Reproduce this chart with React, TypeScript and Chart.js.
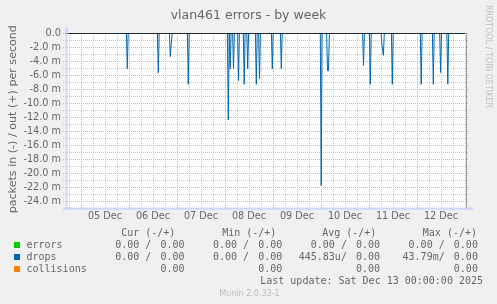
import React, { useEffect, useRef } from "react";
import { Chart, registerables } from "chart.js";

Chart.register(...registerables);

// ---------- text ----------
const chartTitle = "vlan461 errors - by week";
const yAxisTitle = "packets in (-) / out (+) per second";
const watermark = "RRDTOOL / TOBI OETIKER";
const footerText = "Munin 2.0.33-1";
const lastUpdateText = "Last update: Sat Dec 13 00:00:00 2025";

// ---------- axes (x in hours relative to last update, Sat Dec 13 00:00) ----------
const xStartHour = -200;
const xEndHour = 0;
const dayLabels = ["05 Dec", "06 Dec", "07 Dec", "08 Dec", "09 Dec", "10 Dec", "11 Dec", "12 Dec"];
const dayLabelHours = [-180, -156, -132, -108, -84, -60, -36, -12];
const yMin = -25;
const yMax = 0;
const yLabelValues = [0, -2, -4, -6, -8, -10, -12, -14, -16, -18, -20, -22, -24];
const yLabelTexts = ["0.0", "-2.0 m", "-4.0 m", "-6.0 m", "-8.0 m", "-10.0 m", "-12.0 m", "-14.0 m", "-16.0 m", "-18.0 m", "-20.0 m", "-22.0 m", "-24.0 m"];

// ---------- drops (in, drawn negative), milli-packets per second ----------
const dropHours = [
  -168.85, -153.35, -147.35, -146.85, -138.35, -118.35, -117.4, -115.75, -113.25,
  -110.4, -108.65, -104.35, -102.75, -96.35, -91.85, -71.9, -68.75, -68.25,
  -50.75, -47.35, -41.5, -40.8, -36.35, -21.9, -15.85, -12.2, -8.6,
];
const dropValues = [
  -5.1, -5.67, -3.38, -1.5, -7.33, -12.4, -5.1, -5.1, -6.8,
  -7.33, -5.1, -7.33, -6.5, -5.1, -5.1, -21.8, -5.38, -5.38,
  -4.65, -7.33, -1.8, -3.2, -7.33, -7.33, -7.33, -5.65, -7.33,
];

// ---------- legend ----------
const seriesNames = ["errors", "drops", "collisions"];
const seriesColors = ["#00CC00", "#0066B3", "#FF8000"];
const statHeaders = ["Cur (-/+)", "Min (-/+)", "Avg (-/+)", "Max (-/+)"];
const errorsIn = ["0.00", "0.00", "0.00", "0.00"];
const errorsOut = ["0.00", "0.00", "0.00", "0.00"];
const dropsIn = ["0.00", "0.00", "445.83u", "43.79m"];
const dropsOut = ["0.00", "0.00", "0.00", "0.00"];
const collisionsVals = ["0.00", "0.00", "0.00", "0.00"];

const FONT = '"DejaVu Sans", sans-serif';
const MONO = '"DejaVu Sans Mono", monospace';
const TEXT = "#666666";
const MINOR = "#c9c9c9";
const MAJOR = "#eba3a3";
const AXIS = "#CFD6F8";

function buildDropPoints() {
  const pts: { x: number; y: number }[] = [{ x: xStartHour, y: 0 }];
  for (let i = 0; i < dropHours.length; i++) {
    const h = dropHours[i];
    const prev = i > 0 ? dropHours[i - 1] : -Infinity;
    const next = i < dropHours.length - 1 ? dropHours[i + 1] : Infinity;
    if (h - prev > 0.9) pts.push({ x: h - 0.45, y: 0 });
    pts.push({ x: h, y: dropValues[i] });
    if (next - h > 0.9) pts.push({ x: h + 0.45, y: 0 });
  }
  pts.push({ x: xEndHour, y: 0 });
  return pts;
}

const rrdPlugin = {
  id: "rrd",
  beforeDraw(chart: any) {
    const { ctx, chartArea: a } = chart;
    ctx.save();
    ctx.fillStyle = "#F0F0F0";
    ctx.fillRect(0, 0, chart.width, chart.height);
    ctx.fillStyle = "#FFFFFF";
    ctx.fillRect(a.left, a.top, a.right - a.left + 1, a.bottom - a.top);
    ctx.restore();
  },
  beforeDatasetsDraw(chart: any) {
    const { ctx, chartArea: a, scales } = chart;
    const xs = scales.x;
    const ys = scales.y;
    ctx.save();
    ctx.lineWidth = 1;
    ctx.setLineDash([1, 1]);
    for (const major of [false, true]) {
      ctx.strokeStyle = major ? MAJOR : MINOR;
      ctx.beginPath();
      for (const t of xs.ticks) {
        const isMajor = t.value % 24 === 0;
        if (isMajor !== major) continue;
        const px = Math.round(xs.getPixelForValue(t.value)) + 0.5;
        ctx.moveTo(px, a.top);
        ctx.lineTo(px, a.bottom + 2);
      }
      for (const t of ys.ticks) {
        const isMajor = t.value % 2 === 0;
        if (isMajor !== major) continue;
        const py = Math.round(ys.getPixelForValue(t.value)) + 0.5;
        ctx.moveTo(a.left - 2, py);
        ctx.lineTo(a.right + 4, py);
      }
      ctx.stroke();
    }
    ctx.restore();
  },
  afterDatasetsDraw(chart: any) {
    const { ctx, chartArea: a } = chart;
    ctx.save();
    // right frame line
    ctx.strokeStyle = "#a0a0a0";
    ctx.lineWidth = 1;
    ctx.beginPath();
    ctx.moveTo(a.right + 1.5, a.top);
    ctx.lineTo(a.right + 1.5, a.bottom);
    ctx.stroke();
    // axes
    ctx.strokeStyle = AXIS;
    ctx.fillStyle = AXIS;
    ctx.lineWidth = 2;
    const ax = a.left + 1.5;
    const ay = a.bottom + 0.5;
    ctx.beginPath();
    ctx.moveTo(ax, a.bottom + 2);
    ctx.lineTo(ax, a.top - 3);
    ctx.moveTo(a.left - 2, ay);
    ctx.lineTo(a.right + 5, ay);
    ctx.stroke();
    ctx.beginPath();
    ctx.moveTo(ax, a.top - 7);
    ctx.lineTo(ax - 2.5, a.top - 2);
    ctx.lineTo(ax + 2.5, a.top - 2);
    ctx.closePath();
    ctx.fill();
    ctx.beginPath();
    ctx.moveTo(a.right + 9, ay);
    ctx.lineTo(a.right + 4, ay - 2.5);
    ctx.lineTo(a.right + 4, ay + 2.5);
    ctx.closePath();
    ctx.fill();
    ctx.restore();
  },
  afterDraw(chart: any) {
    const { ctx } = chart;
    ctx.save();
    ctx.fillStyle = TEXT;
    // title
    ctx.font = `12.5px ${FONT}`;
    ctx.textAlign = "center";
    ctx.textBaseline = "alphabetic";
    ctx.fillText(chartTitle, chart.width / 2, 19);
    // y axis title
    ctx.save();
    ctx.font = `11.1px ${FONT}`;
    ctx.translate(15.5, 119.2);
    ctx.rotate(-Math.PI / 2);
    ctx.textAlign = "center";
    ctx.fillText(yAxisTitle, 0, 0);
    ctx.restore();
    // watermark
    ctx.save();
    ctx.fillStyle = "#c0c0c0";
    ctx.font = `8px ${FONT}`;
    ctx.translate(486, 5);
    ctx.rotate(Math.PI / 2);
    ctx.textAlign = "left";
    ctx.fillText(watermark, 0, 0);
    ctx.restore();
    // legend
    ctx.font = `10px ${MONO}`;
    ctx.textBaseline = "middle";
    ctx.textAlign = "left";
    const headerXs = [121.2, 222.2, 322.2, 422.8];
    statHeaders.forEach((h, j) => ctx.fillText(h, headerXs[j], 233));
    const colEnds = [184.5, 282.3, 380.1, 477.9];
    const rowY = [245, 257, 269];
    seriesNames.forEach((name, i) => {
      ctx.fillStyle = seriesColors[i];
      ctx.fillRect(14, rowY[i] - 3, 6, 6);
      ctx.fillStyle = TEXT;
      ctx.textAlign = "left";
      ctx.fillText(name, 26.5, rowY[i]);
    });
    ctx.textAlign = "right";
    const pairRows = [
      [errorsIn, errorsOut],
      [dropsIn, dropsOut],
    ];
    pairRows.forEach(([ins, outs], i) => {
      for (let j = 0; j < 4; j++) {
        const v = ins[j];
        const left = /[a-zA-Z]$/.test(v) ? v + "/" : v + " /";
        ctx.fillText(left, colEnds[j] - 33.2, rowY[i]);
        ctx.fillText(outs[j], colEnds[j], rowY[i]);
      }
    });
    for (let j = 0; j < 4; j++) ctx.fillText(collisionsVals[j], colEnds[j], rowY[2]);
    ctx.fillText(lastUpdateText, 483, 281);
    // footer
    ctx.font = `8px ${FONT}`;
    ctx.fillStyle = "#bdbdbd";
    ctx.textAlign = "center";
    ctx.fillText(footerText, 249.5, 294);
    ctx.restore();
  },
};

export default function App() {
  const ref = useRef<HTMLCanvasElement | null>(null);
  useEffect(() => {
    if (!ref.current) return;
    const xTicks: { value: number }[] = [];
    for (let h = xEndHour; h >= xStartHour; h -= 6) xTicks.unshift({ value: h });
    const yTicks: { value: number }[] = [];
    for (let v = yMax; v >= yMin + 1; v -= 1) yTicks.push({ value: v });
    const tickFont = { family: FONT, size: 9.7 };
    const chart = new Chart(ref.current, {
      type: "line",
      data: {
        datasets: [
          {
            label: "zero",
            data: [
              { x: xStartHour, y: 0 },
              { x: xEndHour, y: 0 },
            ],
            borderColor: "#000000",
            borderWidth: 1.5,
            pointRadius: 0,
            order: 0,
          },
          {
            label: "drops",
            data: buildDropPoints(),
            borderColor: "#0066B3",
            borderWidth: 1,
            pointRadius: 0,
            tension: 0,
            order: 1,
          },
        ],
      },
      options: {
        animation: false,
        responsive: false,
        maintainAspectRatio: false,
        events: [],
        layout: { padding: { left: 0, top: 33, right: 32, bottom: 0 } },
        plugins: {
          legend: { display: false },
          tooltip: { enabled: false },
          title: { display: false },
        },
        scales: {
          x: {
            type: "linear",
            min: xStartHour,
            max: xEndHour,
            afterBuildTicks: (s: any) => {
              s.ticks = xTicks.map((t) => ({ ...t }));
            },
            afterFit: (s: any) => {
              s.height = 96;
            },
            grid: { display: false, drawTicks: false },
            border: { display: false },
            ticks: {
              autoSkip: false,
              maxRotation: 0,
              minRotation: 0,
              padding: 3,
              color: TEXT,
              font: tickFont,
              callback: (v: any) => {
                const i = dayLabelHours.indexOf(Number(v));
                return i >= 0 ? dayLabels[i] : "";
              },
            },
          },
          y: {
            type: "linear",
            min: yMin,
            max: yMax,
            afterBuildTicks: (s: any) => {
              s.ticks = yTicks.map((t) => ({ ...t }));
            },
            afterFit: (s: any) => {
              s.width = 65;
            },
            grid: { display: false, drawTicks: false },
            border: { display: false },
            ticks: {
              autoSkip: false,
              padding: 4,
              color: TEXT,
              font: tickFont,
              callback: (v: any) => {
                const i = yLabelValues.indexOf(Number(v));
                return i >= 0 ? yLabelTexts[i] : "";
              },
            },
          },
        },
      },
      plugins: [rrdPlugin],
    } as any);
    return () => chart.destroy();
  }, []);
  return (
    <div style={{ position: "fixed", left: 0, top: 0, width: 497, height: 304 }}>
      <canvas ref={ref} width={497} height={304} style={{ display: "block", width: 497, height: 304 }} />
    </div>
  );
}
